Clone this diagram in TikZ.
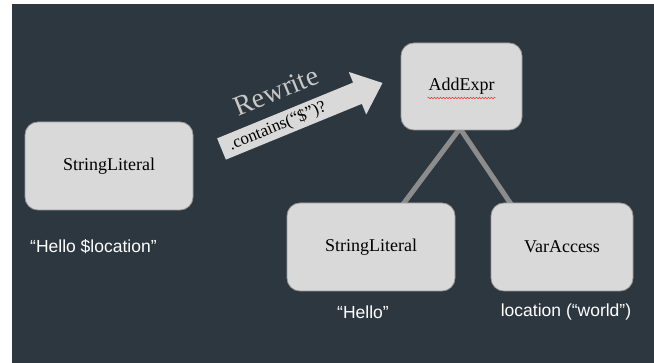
\documentclass[tikz,border=0pt]{standalone}
\usepackage{fontspec}
\setmainfont{Liberation Serif}
\newfontfamily\labelfont{Liberation Sans}
\usetikzlibrary{decorations.pathmorphing,backgrounds}
\definecolor{bgdark}{HTML}{2D373F}
\definecolor{boxfill}{HTML}{D9D9D9}
\definecolor{boxline}{HTML}{9A9A9A}
\definecolor{linkgray}{HTML}{8C8C8C}
\definecolor{rewritegray}{HTML}{C8C8C8}
\tikzset{
  astbox/.style={draw=boxline, line width=0.8pt, fill=boxfill, rounded corners=13pt,
    inner sep=0pt, font=\fontsize{18}{20}\selectfont, text=black},
  valuelabel/.style={text=white, inner sep=0pt, font=\labelfont\fontsize{17.5}{20}\selectfont},
  treelink/.style={draw=linkgray, line width=5pt},
}
\begin{document}
\begin{tikzpicture}[x=1pt,y=1pt]
\begin{scope}[on background layer]
\fill[white] (0,0) rectangle (654,363);
\fill[bgdark] (12,0) rectangle (654,359);
\end{scope}
\useasboundingbox (0,0) rectangle (654,363);

% boxes
\node[astbox, minimum width=121pt, minimum height=87pt] (add) at (461.5,276.5) {AddExpr};
\node[astbox, minimum width=168pt, minimum height=88pt] (sl1) at (109,197) {StringLiteral};
\node[astbox, minimum width=168pt, minimum height=88pt] (sl2) at (371,116) {StringLiteral};
\node[astbox, minimum width=142pt, minimum height=88pt] (va) at (562,116) {VarAccess};

% spell-check squiggle
\draw[red!80!white, line width=0.5pt, decorate, decoration={snake, amplitude=0.8pt, segment length=3pt}]
  ([xshift=-34pt,yshift=-11.5pt]add.center) -- ([xshift=34pt,yshift=-11.5pt]add.center);

% tree links
\begin{scope}[on background layer]
\coordinate (apex) at ([xshift=-1.5pt,yshift=2pt]add.south);
\coordinate (lend) at ([xshift=31pt,yshift=-3pt]sl2.north);
\coordinate (rend) at ([xshift=-50pt,yshift=-3pt]va.north);
\draw[treelink] (apex) -- (lend);
\draw[treelink] (apex) -- (rend);
\end{scope}

% value labels
\node[valuelabel, anchor=west] (v1) at (30,116) {“Hello \$location”};
\node[valuelabel] (v2) at (363,51) {“Hello”};
\node[valuelabel] (v3) at (566,51) {location (“world”)};

% rewrite arrow
\begin{scope}[shift={(221.5,214)}, rotate=22.3]
\fill[boxfill] (0,-11.5) -- (147,-11.5) -- (147,-23) -- (174,0) -- (147,23) -- (147,11.5) -- (0,11.5) -- cycle;
\node[transform shape, inner sep=0pt, font=\fontsize{17}{18}\selectfont, text=black] (cond) at (60.5,-0.5) {.contains(“\$”)?};
\node[transform shape, inner sep=0pt, font=\fontsize{28}{30}\selectfont, text=rewritegray] (rw) at (72.5,33) {Rewrite};
\end{scope}
\end{tikzpicture}
\end{document}
